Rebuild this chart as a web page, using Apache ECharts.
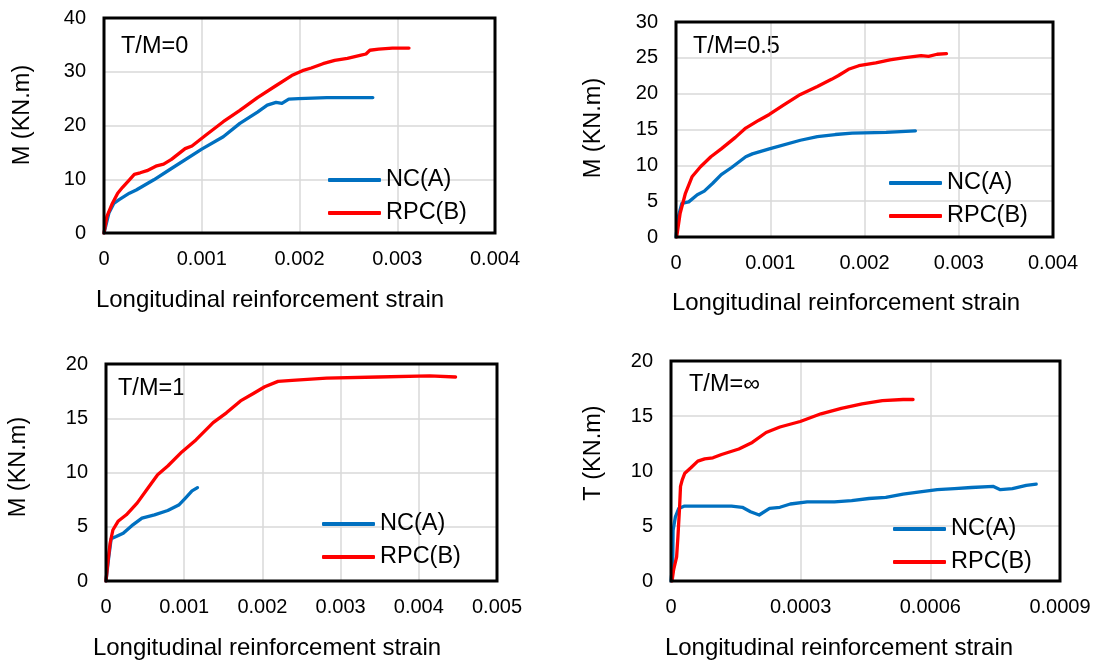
<!DOCTYPE html>
<html>
<head>
<meta charset="utf-8">
<script src="https://cdn.jsdelivr.net/npm/echarts@6/dist/echarts.min.js"></script>
<style>
  html, body { margin: 0; padding: 0; background: #fff; }
  #chart { width: 1097px; height: 664px; }
</style>
</head>
<body>
<div id="chart"></div>
<script>
// strain vs moment/torque
const ncA0 = [[0,0],[0.00005,3.7],[0.0001,5.5],[0.000155,6.2],[0.00026,7.4],[0.00033,8.0],[0.00051,9.9],[0.00069,12.0],[0.001,15.6],[0.00122,17.9],[0.00139,20.4],[0.00157,22.5],[0.00167,23.8],[0.00176,24.3],[0.00182,24.1],[0.00189,24.9],[0.00199,25.0],[0.00228,25.2],[0.00275,25.2]];
const rpcB0 = [[0,0],[0.00003,3.1],[0.000085,5.5],[0.00014,7.4],[0.00019,8.5],[0.00026,9.9],[0.00031,10.9],[0.00037,11.2],[0.00044,11.6],[0.00054,12.5],[0.00061,12.8],[0.00069,13.7],[0.00083,15.7],[0.0009,16.2],[0.00104,18.2],[0.00122,20.7],[0.00139,22.8],[0.00157,25.2],[0.00175,27.3],[0.00192,29.3],[0.00203,30.2],[0.00212,30.7],[0.00224,31.5],[0.00236,32.1],[0.00249,32.5],[0.00263,33.1],[0.00268,33.3],[0.00272,34.0],[0.00281,34.2],[0.00295,34.4],[0.00312,34.4]];

const ncA05 = [[0,0],[0.000026,2.9],[0.000062,4.7],[0.000135,4.9],[0.000226,5.9],[0.0003,6.4],[0.00039,7.5],[0.00048,8.7],[0.00059,9.7],[0.00074,11.2],[0.00081,11.6],[0.00099,12.3],[0.00132,13.5],[0.0015,14.0],[0.00169,14.3],[0.00187,14.5],[0.00223,14.6],[0.00254,14.8]];
const rpcB05 = [[0.000007,0],[0.000044,3.3],[0.0001,6.1],[0.00017,8.4],[0.00026,9.8],[0.00037,11.2],[0.00048,12.3],[0.00063,13.9],[0.00074,15.2],[0.00088,16.3],[0.00099,17.1],[0.00114,18.4],[0.00132,19.9],[0.0015,21.0],[0.00165,22.0],[0.00172,22.5],[0.00183,23.4],[0.00194,23.9],[0.00212,24.3],[0.00227,24.7],[0.00241,25.0],[0.0026,25.3],[0.00268,25.2],[0.00277,25.5],[0.00287,25.6]];

const ncA1 = [[0,0],[0.000035,2.2],[0.000066,3.9],[0.00013,4.1],[0.00022,4.4],[0.00033,5.1],[0.00046,5.8],[0.00062,6.1],[0.00079,6.5],[0.00093,7.0],[0.00101,7.6],[0.0011,8.3],[0.00117,8.6]];
const rpcB1 = [[0,0],[0.000022,1.6],[0.000053,3.5],[0.000088,4.7],[0.000154,5.5],[0.00026,6.1],[0.0004,7.2],[0.00053,8.5],[0.00066,9.8],[0.00079,10.6],[0.00097,11.9],[0.00115,13.0],[0.00137,14.6],[0.00154,15.5],[0.00172,16.6],[0.00189,17.3],[0.00203,17.9],[0.0022,18.4],[0.00238,18.5],[0.00282,18.7],[0.00348,18.8],[0.00414,18.9],[0.00447,18.8]];

const ncAinf = [[0,0],[0.000004,1.6],[0.0000048,4.6],[0.00001,5.8],[0.000018,6.6],[0.00003,6.8],[0.000078,6.8],[0.00014,6.8],[0.000165,6.7],[0.000184,6.3],[0.000204,6.0],[0.000228,6.6],[0.000252,6.7],[0.000276,7.0],[0.000315,7.2],[0.000378,7.2],[0.000418,7.3],[0.000458,7.5],[0.000497,7.6],[0.000537,7.9],[0.000576,8.1],[0.000616,8.3],[0.000656,8.4],[0.000695,8.5],[0.000746,8.6],[0.000762,8.3],[0.00079,8.4],[0.000822,8.7],[0.000845,8.8]];
const rpcBinf = [[0.0000024,0],[0.000006,1.0],[0.000013,2.2],[0.000016,4.0],[0.00002,6.8],[0.000022,8.6],[0.000026,9.2],[0.000032,9.8],[0.000046,10.3],[0.000062,10.9],[0.000078,11.1],[0.000097,11.2],[0.000117,11.5],[0.000157,12.0],[0.000188,12.6],[0.00022,13.5],[0.000252,14.0],[0.000299,14.5],[0.000347,15.2],[0.000394,15.7],[0.000442,16.1],[0.000489,16.4],[0.000537,16.5],[0.00056,16.5]];

const panelLabels = ['T/M=0', 'T/M=0.5', 'T/M=1', 'T/M=\u221E'];
const yNames = ['M (KN.m)', 'M (KN.m)', 'M (KN.m)', 'T (KN.m)'];
const xName = 'Longitudinal reinforcement strain';
const xMax = [0.004, 0.004, 0.005, 0.0009];
const xStep = [0.001, 0.001, 0.001, 0.0003];
const yMax = [40, 30, 20, 20];
const yStep = [10, 5, 5, 5];
const ncData = [ncA0, ncA05, ncA1, ncAinf];
const rpcData = [rpcB0, rpcB05, rpcB1, rpcBinf];

const FONT = '"Liberation Sans", Arial, sans-serif';
const BLUE = '#0070C0', RED = '#FF0000';

// plot boxes [left, top, width, height]
const boxes = [[104, 18, 391, 215], [676, 22, 377, 215], [106, 364, 391, 217], [671, 361, 389, 220]];
// text anchors
const yNamePos = [[23, 115], [594, 128], [19, 467], [594, 453]];
const xNamePos = [[270, 300], [846, 303], [267, 648], [839, 648]];
const notePos = [[121, 47], [693, 47], [118, 389], [689, 385]];
const legendPos = [[328, 180], [889, 183], [322, 524], [893, 529]];

const chart = echarts.init(document.getElementById('chart'));

const grid = boxes.map(b => ({
  left: b[0], top: b[1], width: b[2], height: b[3], show: false, containLabel: false
}));

const fmt = v => v === 0 ? '0' : String(+v.toFixed(5));

const xAxis = boxes.map((b, i) => ({
  type: 'value', gridIndex: i, min: 0, max: xMax[i], interval: xStep[i],
  axisLine: { show: false }, axisTick: { show: false },
  splitLine: { show: true, lineStyle: { color: '#d9d9d9', width: 1.5 } },
  axisLabel: { color: '#000', fontSize: 20, fontFamily: FONT, margin: 16, formatter: fmt, showMinLabel: true, showMaxLabel: true, hideOverlap: false }
}));

const yAxis = boxes.map((b, i) => ({
  type: 'value', gridIndex: i, min: 0, max: yMax[i], interval: yStep[i],
  axisLine: { show: false }, axisTick: { show: false },
  splitLine: { show: true, lineStyle: { color: '#d9d9d9', width: 1.5 } },
  axisLabel: { color: '#000', fontSize: 20, fontFamily: FONT, margin: 18 }
}));

const series = [];
boxes.forEach((b, i) => {
  series.push({ name: 'NC(A)', type: 'line', xAxisIndex: i, yAxisIndex: i, data: ncData[i], showSymbol: false, smooth: false,
    lineStyle: { color: BLUE, width: 3.3, cap: 'round', join: 'round' }, itemStyle: { color: BLUE }, z: 3 });
  series.push({ name: 'RPC(B)', type: 'line', xAxisIndex: i, yAxisIndex: i, data: rpcData[i], showSymbol: false, smooth: false,
    lineStyle: { color: RED, width: 3.3, cap: 'round', join: 'round' }, itemStyle: { color: RED }, z: 4 });
});

const legend = legendPos.map(p => ({
  data: ['NC(A)', 'RPC(B)'], orient: 'vertical', left: p[0], top: p[1] - 13,
  icon: 'roundRect', itemWidth: 53, itemHeight: 4, itemGap: 7, padding: 0,
  selectedMode: false,
  textStyle: { color: '#000', fontSize: 23.5, fontFamily: FONT, lineHeight: 26, padding: 0 }
}));

const graphic = [];
boxes.forEach((b, i) => {
  graphic.push({ type: 'rect', shape: { x: b[0], y: b[1], width: b[2], height: b[3] }, z: 100, silent: true,
    style: { fill: null, stroke: '#000', lineWidth: 3 } });
  graphic.push({ type: 'text', x: yNamePos[i][0], y: yNamePos[i][1], rotation: Math.PI / 2,
    style: { text: yNames[i], font: '23.5px ' + FONT, fill: '#000', align: 'center', verticalAlign: 'middle' } });
  graphic.push({ type: 'text', x: xNamePos[i][0], y: xNamePos[i][1],
    style: { text: xName, font: '24px ' + FONT, fill: '#000', align: 'center', verticalAlign: 'middle' } });
  graphic.push({ type: 'text', x: notePos[i][0], y: notePos[i][1],
    style: { text: panelLabels[i], font: '23.5px ' + FONT, fill: '#000', align: 'left', verticalAlign: 'middle' } });
});

chart.setOption({
  animation: false,
  backgroundColor: '#fff',
  grid, xAxis, yAxis, series, legend, graphic
});
</script>
</body>
</html>
